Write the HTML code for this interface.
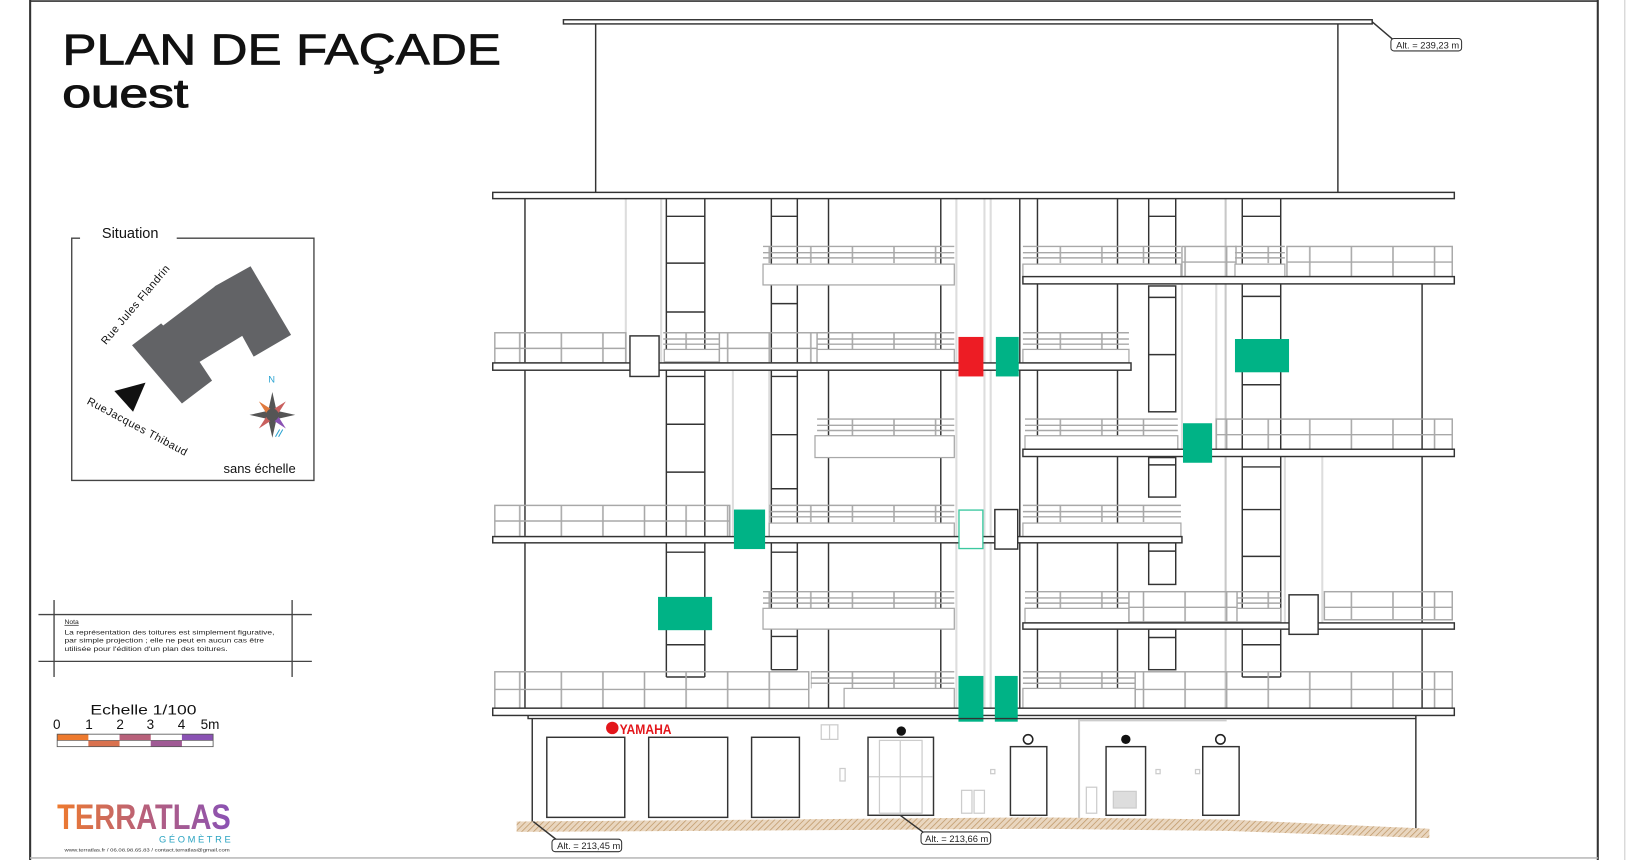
<!DOCTYPE html>
<html><head><meta charset="utf-8"><style>
html,body{margin:0;padding:0;background:#fff;}
svg{display:block;}
text{font-family:"Liberation Sans",sans-serif;}
.d{stroke:#333;stroke-width:1.4;fill:none}
.dw{stroke:#333;stroke-width:1.4;fill:#fff}
.g{stroke:#a8a8a8;stroke-width:1.4;fill:none}
.gw{stroke:#a8a8a8;stroke-width:1.2;fill:#fff}
.lg{stroke:#ddd;stroke-width:2;fill:none}
.slab{stroke:#333;stroke-width:1.4;fill:#fff}
</style></head><body>
<svg width="1630" height="860" viewBox="0 0 1568 827" preserveAspectRatio="none" xmlns="http://www.w3.org/2000/svg">
<defs>
<pattern id="p" width="40" height="10" patternUnits="userSpaceOnUse"><line x1="20" y1="0" x2="20" y2="10" stroke="#a8a8a8" stroke-width="1.5"/></pattern>
<pattern id="h" width="4" height="4" patternUnits="userSpaceOnUse" patternTransform="rotate(45)"><rect width="4" height="4" fill="#e9d6bf"/><line x1="0" y1="0" x2="0" y2="4" stroke="#c19a6b" stroke-width="1.5"/></pattern>
<linearGradient id="lg1" x1="0" x2="1"><stop offset="0" stop-color="#ee7a2e"/><stop offset="0.5" stop-color="#b8607a"/><stop offset="1" stop-color="#8a52b4"/></linearGradient>
</defs>
<rect width="1568" height="827" fill="#fff"/>
<line x1="29" y1="0" x2="29" y2="827" stroke="#333" stroke-width="2"/>
<line x1="1537" y1="0" x2="1537" y2="827" stroke="#333" stroke-width="2"/>
<line x1="1563" y1="0" x2="1563" y2="827" stroke="#ccc" stroke-width="1"/>
<line x1="29" y1="1" x2="1537" y2="1" stroke="#333" stroke-width="1.5"/>
<line x1="29" y1="825" x2="1537" y2="825" stroke="#bbb" stroke-width="1.5"/>

<text x="60" y="62" font-size="42" textLength="422" lengthAdjust="spacingAndGlyphs" fill="#111" stroke="#111" stroke-width="0.7">PLAN DE FAÇADE</text>
<text x="60" y="103" font-size="38" textLength="121" lengthAdjust="spacingAndGlyphs" fill="#111" stroke="#111" stroke-width="1">ouest</text>

<rect x="542" y="19" width="778" height="4" class="slab"/>
<line x1="573" y1="23" x2="573" y2="185" class="d"/>
<line x1="1287" y1="23" x2="1287" y2="185" class="d"/>
<path d="M1320 21 L1340 38" class="d" stroke-width="1"/>
<rect x="1338" y="37" width="68" height="12" rx="3" fill="#fff" stroke="#333"/>
<text x="1343" y="46.5" font-size="9" fill="#222">Alt. =  239,23 m</text>

<g class="lg">
<line x1="602" y1="191" x2="602" y2="349"/>
<line x1="636" y1="191" x2="636" y2="349"/>
<line x1="705" y1="356" x2="705" y2="516"/>
<line x1="740" y1="356" x2="740" y2="516"/>
<line x1="920" y1="191" x2="920" y2="688"/>
<line x1="947" y1="191" x2="947" y2="688"/>
<line x1="953" y1="191" x2="953" y2="688"/>
<line x1="1137" y1="273" x2="1137" y2="432"/>
<line x1="1170" y1="273" x2="1170" y2="432"/>
<line x1="1179" y1="191" x2="1179" y2="681" stroke="#c8c8c8"/>
<line x1="1236" y1="439" x2="1236" y2="599"/>
<line x1="1272" y1="439" x2="1272" y2="599"/>
</g>

<g class="d">
<line x1="505" y1="191" x2="505" y2="688"/>
<line x1="797" y1="191" x2="797" y2="681"/>
<line x1="905" y1="191" x2="905" y2="681"/>
<line x1="981" y1="191" x2="981" y2="681"/>
<line x1="998" y1="191" x2="998" y2="681"/>
<line x1="1075" y1="191" x2="1075" y2="681"/>
<line x1="1368" y1="273" x2="1368" y2="681"/>
</g>
<g class="d">
<line x1="641" y1="191" x2="641" y2="651"/><line x1="678" y1="191" x2="678" y2="651"/>
<line x1="641" y1="208" x2="678" y2="208"/><line x1="641" y1="253" x2="678" y2="253"/><line x1="641" y1="300" x2="678" y2="300"/>
<line x1="641" y1="362" x2="678" y2="362"/><line x1="641" y1="408" x2="678" y2="408"/><line x1="641" y1="454" x2="678" y2="454"/>
<line x1="641" y1="531" x2="678" y2="531"/><line x1="641" y1="620" x2="678" y2="620"/><line x1="641" y1="651" x2="678" y2="651"/>
<line x1="742" y1="191" x2="742" y2="644"/><line x1="767" y1="191" x2="767" y2="644"/>
<line x1="742" y1="208" x2="767" y2="208"/><line x1="742" y1="292" x2="767" y2="292"/><line x1="742" y1="362" x2="767" y2="362"/>
<line x1="742" y1="418" x2="767" y2="418"/><line x1="742" y1="470" x2="767" y2="470"/><line x1="742" y1="531" x2="767" y2="531"/>
<line x1="742" y1="612" x2="767" y2="612"/><line x1="742" y1="644" x2="767" y2="644"/>
<line x1="1195" y1="191" x2="1195" y2="651"/><line x1="1232" y1="191" x2="1232" y2="651"/>
<line x1="1195" y1="208" x2="1232" y2="208"/><line x1="1195" y1="285" x2="1232" y2="285"/><line x1="1195" y1="370" x2="1232" y2="370"/>
<line x1="1195" y1="449" x2="1232" y2="449"/><line x1="1195" y1="490" x2="1232" y2="490"/><line x1="1195" y1="535" x2="1232" y2="535"/>
<line x1="1195" y1="620" x2="1232" y2="620"/><line x1="1195" y1="651" x2="1232" y2="651"/>
<line x1="1105" y1="191" x2="1105" y2="270"/><line x1="1131" y1="191" x2="1131" y2="270"/><line x1="1105" y1="208" x2="1131" y2="208"/>
</g>
<rect x="1105" y="275" width="26" height="121" class="dw"/><line x1="1105" y1="286" x2="1131" y2="286" class="d"/><line x1="1105" y1="341" x2="1131" y2="341" class="d"/>
<rect x="1105" y="440" width="26" height="38" class="dw"/><line x1="1105" y1="447" x2="1131" y2="447" class="d"/>
<rect x="1105" y="522" width="26" height="40" class="dw"/><line x1="1105" y1="530" x2="1131" y2="530" class="d"/>
<rect x="1105" y="605" width="26" height="39" class="dw"/><line x1="1105" y1="613" x2="1131" y2="613" class="d"/>

<g class="g">
<rect x="734" y="237" width="184" height="16" fill="url(#p)" stroke="none"/>
<line x1="734" y1="237" x2="918" y2="237"/><line x1="734" y1="243" x2="918" y2="243"/><line x1="734" y1="248" x2="918" y2="248"/>
<rect x="734" y="254" width="184" height="20" class="gw"/>
<rect x="984" y="237" width="152" height="16" fill="url(#p)" stroke="none"/>
<line x1="984" y1="237" x2="1136" y2="237"/><line x1="984" y1="243" x2="1136" y2="243"/><line x1="984" y1="248" x2="1136" y2="248"/>
<rect x="984" y="254" width="152" height="13" class="gw"/>
<rect x="1137" y="237" width="52" height="29" fill="url(#p)"/><line x1="1137" y1="252" x2="1189" y2="252"/>
<rect x="1188" y="237" width="48" height="16" fill="url(#p)" stroke="none"/>
<line x1="1188" y1="237" x2="1236" y2="237"/><line x1="1188" y1="243" x2="1236" y2="243"/><line x1="1188" y1="248" x2="1236" y2="248"/>
<rect x="1188" y="254" width="48" height="13" class="gw"/>
<rect x="1238" y="237" width="159" height="29" fill="url(#p)"/><line x1="1238" y1="252" x2="1397" y2="252"/>
<rect x="476" y="320" width="126" height="29" fill="url(#p)"/><line x1="476" y1="335" x2="602" y2="335"/>
<rect x="638" y="320" width="54" height="16" fill="url(#p)" stroke="none"/>
<line x1="638" y1="320" x2="692" y2="320"/><line x1="638" y1="326" x2="692" y2="326"/><line x1="638" y1="331" x2="692" y2="331"/>
<rect x="639" y="336" width="53" height="12" class="gw"/>
<rect x="692" y="320" width="94" height="29" fill="url(#p)"/><line x1="692" y1="335" x2="786" y2="335"/>
<rect x="786" y="320" width="132" height="16" fill="url(#p)" stroke="none"/>
<line x1="786" y1="320" x2="918" y2="320"/><line x1="786" y1="326" x2="918" y2="326"/><line x1="786" y1="331" x2="918" y2="331"/>
<rect x="786" y="336" width="132" height="13" class="gw"/>
<rect x="984" y="320" width="102" height="16" fill="url(#p)" stroke="none"/>
<line x1="984" y1="320" x2="1086" y2="320"/><line x1="984" y1="326" x2="1086" y2="326"/><line x1="984" y1="331" x2="1086" y2="331"/>
<rect x="984" y="336" width="102" height="13" class="gw"/>
<rect x="786" y="403" width="132" height="16" fill="url(#p)" stroke="none"/>
<line x1="786" y1="403" x2="918" y2="403"/><line x1="786" y1="409" x2="918" y2="409"/><line x1="786" y1="414" x2="918" y2="414"/>
<rect x="784" y="419" width="134" height="21" class="gw"/>
<rect x="986" y="403" width="147" height="16" fill="url(#p)" stroke="none"/>
<line x1="986" y1="403" x2="1133" y2="403"/><line x1="986" y1="409" x2="1133" y2="409"/><line x1="986" y1="414" x2="1133" y2="414"/>
<rect x="986" y="419" width="147" height="13" class="gw"/>
<rect x="1170" y="403" width="227" height="29" fill="url(#p)"/><line x1="1170" y1="418" x2="1397" y2="418"/>
<rect x="476" y="486" width="226" height="30" fill="url(#p)"/><line x1="476" y1="501" x2="702" y2="501"/>
<rect x="740" y="486" width="178" height="16" fill="url(#p)" stroke="none"/>
<line x1="740" y1="486" x2="918" y2="486"/><line x1="740" y1="492" x2="918" y2="492"/><line x1="740" y1="497" x2="918" y2="497"/>
<rect x="740" y="503" width="178" height="13" class="gw"/>
<rect x="984" y="486" width="152" height="16" fill="url(#p)" stroke="none"/>
<line x1="984" y1="486" x2="1136" y2="486"/><line x1="984" y1="492" x2="1136" y2="492"/><line x1="984" y1="497" x2="1136" y2="497"/>
<rect x="984" y="503" width="152" height="13" class="gw"/>
<rect x="734" y="569" width="184" height="16" fill="url(#p)" stroke="none"/>
<line x1="734" y1="569" x2="918" y2="569"/><line x1="734" y1="575" x2="918" y2="575"/><line x1="734" y1="580" x2="918" y2="580"/>
<rect x="734" y="585" width="184" height="20" class="gw"/>
<rect x="986" y="569" width="100" height="16" fill="url(#p)" stroke="none"/>
<line x1="986" y1="569" x2="1086" y2="569"/><line x1="986" y1="575" x2="1086" y2="575"/><line x1="986" y1="580" x2="1086" y2="580"/>
<rect x="986" y="585" width="100" height="14" class="gw"/>
<rect x="1086" y="569" width="104" height="29" fill="url(#p)"/><line x1="1086" y1="584" x2="1190" y2="584"/>
<rect x="1190" y="569" width="42" height="16" fill="url(#p)" stroke="none"/>
<line x1="1190" y1="569" x2="1232" y2="569"/><line x1="1190" y1="575" x2="1232" y2="575"/><line x1="1190" y1="580" x2="1232" y2="580"/>
<rect x="1190" y="585" width="42" height="13" class="gw"/>
<rect x="1274" y="569" width="123" height="27" fill="url(#p)"/><line x1="1274" y1="584" x2="1397" y2="584"/>
<rect x="476" y="646" width="302" height="35" fill="url(#p)"/><line x1="476" y1="663" x2="778" y2="663"/>
<rect x="780" y="646" width="138" height="16" fill="url(#p)" stroke="none"/>
<line x1="780" y1="646" x2="918" y2="646"/><line x1="780" y1="652" x2="918" y2="652"/><line x1="780" y1="657" x2="918" y2="657"/>
<rect x="812" y="662" width="106" height="19" class="gw"/>
<rect x="984" y="646" width="108" height="16" fill="url(#p)" stroke="none"/>
<line x1="984" y1="646" x2="1092" y2="646"/><line x1="984" y1="652" x2="1092" y2="652"/><line x1="984" y1="657" x2="1092" y2="657"/>
<rect x="984" y="662" width="108" height="19" class="gw"/>
<rect x="1092" y="646" width="305" height="35" fill="url(#p)"/><line x1="1092" y1="663" x2="1397" y2="663"/>
</g>

<rect x="474" y="185" width="925" height="6" class="slab"/>
<rect x="984" y="266" width="415" height="7" class="slab"/>
<rect x="474" y="349" width="614" height="7" class="slab"/>
<rect x="984" y="432" width="415" height="7" class="slab"/>
<rect x="474" y="516" width="663" height="6" class="slab"/>
<rect x="984" y="599" width="415" height="6" class="slab"/>
<rect x="474" y="681" width="925" height="7" class="slab"/>

<rect x="606" y="323" width="28" height="39" class="dw"/>
<rect x="957" y="490" width="22" height="38" class="dw"/>
<rect x="1240" y="572" width="28" height="38" class="dw"/>
<rect x="922" y="324" width="24" height="38" fill="#ed1c24"/>
<rect x="958" y="324" width="22" height="38" fill="#00b386"/>
<rect x="1188" y="326" width="52" height="32" fill="#00b386"/>
<rect x="1138" y="407" width="28" height="38" fill="#00b386"/>
<rect x="706" y="490" width="30" height="38" fill="#00b386"/>
<rect x="922.5" y="490.5" width="23" height="37" fill="#fff" stroke="#3cc9a0" stroke-width="1.3"/>
<rect x="633" y="574" width="52" height="32" fill="#00b386"/>
<rect x="922" y="650" width="24" height="44" fill="#00b386"/>
<rect x="957" y="650" width="22" height="44" fill="#00b386"/>

<path d="M508 688 L508 691 L1362 691 L1362 688" class="d"/>
<line x1="512" y1="691" x2="512" y2="790" class="d"/>
<line x1="1362" y1="691" x2="1362" y2="805" class="d"/>
<line x1="1038" y1="692" x2="1038" y2="790" stroke="#ccc" stroke-width="2"/>
<line x1="1038" y1="693" x2="1180" y2="693" stroke="#ccc" stroke-width="1.5"/>
<path d="M497 790 L1000 786 L1180 788 L1375 797 L1375 806 L1180 799 L1000 797 L497 800 Z" fill="url(#h)"/>
<g class="dw" stroke-width="1.6">
<rect x="526" y="709" width="75" height="77"/>
<rect x="624" y="709" width="76" height="77"/>
<rect x="723" y="709" width="46" height="77"/>
<rect x="835" y="709" width="63" height="75"/>
<rect x="972" y="718" width="35" height="66"/>
<rect x="1064" y="718" width="38" height="66"/>
<rect x="1157" y="718" width="35" height="66"/>
</g>
<g stroke="#ccc" fill="none" stroke-width="1.2">
<rect x="846" y="712" width="41" height="70"/><line x1="866" y1="712" x2="866" y2="782"/><line x1="836" y1="747" x2="897" y2="747"/>
<rect x="790" y="697" width="16" height="14"/><line x1="798" y1="697" x2="798" y2="711"/>
<rect x="808" y="739" width="5" height="12"/>
<rect x="925" y="760" width="10" height="22"/><rect x="937" y="760" width="10" height="22"/>
<rect x="1045" y="757" width="10" height="25"/>
<rect x="1071" y="761" width="22" height="16" fill="#ddd"/>
<rect x="1112" y="740" width="4" height="4"/><rect x="1150" y="740" width="4" height="4"/><rect x="953" y="740" width="4" height="4"/>
</g>
<circle cx="867" cy="703" r="4.5" fill="#111"/>
<circle cx="989" cy="711" r="4.5" fill="#fff" stroke="#222" stroke-width="1.5"/>
<circle cx="1083" cy="711" r="4.5" fill="#111"/>
<circle cx="1174" cy="711" r="4.5" fill="#fff" stroke="#222" stroke-width="1.5"/>
<circle cx="589" cy="700" r="6" fill="#e3161b"/>
<text x="596" y="706" font-size="13" font-weight="bold" fill="#e3161b" textLength="50" lengthAdjust="spacingAndGlyphs">YAMAHA</text>

<path d="M513 790 L536 808" class="d" stroke-width="1"/>
<rect x="531" y="807" width="67" height="12" rx="3" fill="#fff" stroke="#333"/>
<text x="536" y="816.5" font-size="9" fill="#222">Alt. =  213,45 m</text>
<path d="M866 784 L889 801" class="d" stroke-width="1"/>
<rect x="886" y="800" width="67" height="12" rx="3" fill="#fff" stroke="#333"/>
<text x="890" y="809.5" font-size="9" fill="#222">Alt. =  213,66 m</text>

<path d="M77 229 L69 229 L69 462 L302 462 L302 229 L170 229" fill="none" stroke="#444" stroke-width="1.3"/>
<text x="98" y="229" font-size="14" fill="#111">Situation</text>
<polygon points="127,332 155,311 157,313 206,276 207,275 241,256 280,322 244,343 233,323 192,348 204,366 175,388" fill="#626366"/>
<polygon points="110,376 140,368 128,396" fill="#111"/>
<text transform="translate(102,332) rotate(-50)" font-size="10.5" fill="#111" letter-spacing="0.5">Rue Jules Flandrin</text>
<text transform="translate(83,388) rotate(28)" font-size="10.5" fill="#111" letter-spacing="0.5">RueJacques Thibaud</text>
<text x="258" y="368" font-size="9" fill="#29a3d1">N</text>
<g transform="translate(262,399)">
<polygon points="0,-22 4,-4 0,0 -4,-4" fill="#555"/>
<polygon points="0,22 4,4 0,0 -4,4" fill="#555"/>
<polygon points="-22,0 -4,-4 0,0 -4,4" fill="#555"/>
<polygon points="22,0 4,-4 0,0 4,4" fill="#555"/>
<polygon points="-13,-13 -2,-6 -6,-2" fill="#e07a3e"/>
<polygon points="13,-13 2,-6 6,-2" fill="#c9605e"/>
<polygon points="-13,13 -2,6 -6,2" fill="#c9605e"/>
<polygon points="13,13 2,6 6,2" fill="#8a52b4"/>
<circle r="6" fill="#555"/>
<line x1="3" y1="21" x2="7" y2="14" stroke="#29a3d1"/><line x1="6" y1="21" x2="10" y2="14" stroke="#29a3d1"/>
</g>
<text x="215" y="455" font-size="12.5" fill="#111">sans échelle</text>

<g stroke="#444" stroke-width="1.3">
<line x1="37" y1="591" x2="300" y2="591"/><line x1="37" y1="636" x2="300" y2="636"/>
<line x1="52" y1="577" x2="52" y2="651"/><line x1="281" y1="577" x2="281" y2="651"/>
</g>
<text x="62" y="600" font-size="6.5" fill="#222" text-decoration="underline">Nota</text>
<text x="62" y="610" font-size="6.5" fill="#222" textLength="202" lengthAdjust="spacingAndGlyphs">La représentation des toitures est simplement  figurative,</text>
<text x="62" y="618" font-size="6.5" fill="#222" textLength="192" lengthAdjust="spacingAndGlyphs">par simple projection ; elle ne peut  en aucun cas être</text>
<text x="62" y="626" font-size="6.5" fill="#222" textLength="157" lengthAdjust="spacingAndGlyphs">utilisée pour l'édition d'un  plan des toitures.</text>

<text x="87" y="687" font-size="13" fill="#111" textLength="102" lengthAdjust="spacingAndGlyphs">Echelle 1/100</text>
<g font-size="13" fill="#111"><text x="51" y="701">0</text><text x="82" y="701">1</text><text x="112" y="701">2</text><text x="141" y="701">3</text><text x="171" y="701">4</text><text x="193" y="701">5m</text></g>
<rect x="55" y="706" width="30" height="6" fill="#ee7a2e"/><rect x="85" y="712" width="30" height="6" fill="#d9714e"/>
<rect x="115" y="706" width="30" height="6" fill="#b8607a"/><rect x="145" y="712" width="30" height="6" fill="#a05a95"/>
<rect x="175" y="706" width="30" height="6" fill="#8a52b4"/>
<rect x="55" y="706" width="150" height="12" fill="none" stroke="#555" stroke-width="0.8"/>
<line x1="55" y1="712" x2="205" y2="712" stroke="#555" stroke-width="0.6"/>

<text x="55" y="797" font-size="34" font-weight="bold" fill="url(#lg1)" textLength="167" lengthAdjust="spacingAndGlyphs">TERRATLAS</text>
<text x="153" y="810" font-size="9" fill="#29a3c1" letter-spacing="2.5">GÉOMÈTRE</text>
<text x="62" y="819" font-size="4.5" fill="#333" textLength="159" lengthAdjust="spacingAndGlyphs">www.terratlas.fr / 06.08.98.65.83 / contact.terratlas@gmail.com</text>
</svg>
</body></html>
